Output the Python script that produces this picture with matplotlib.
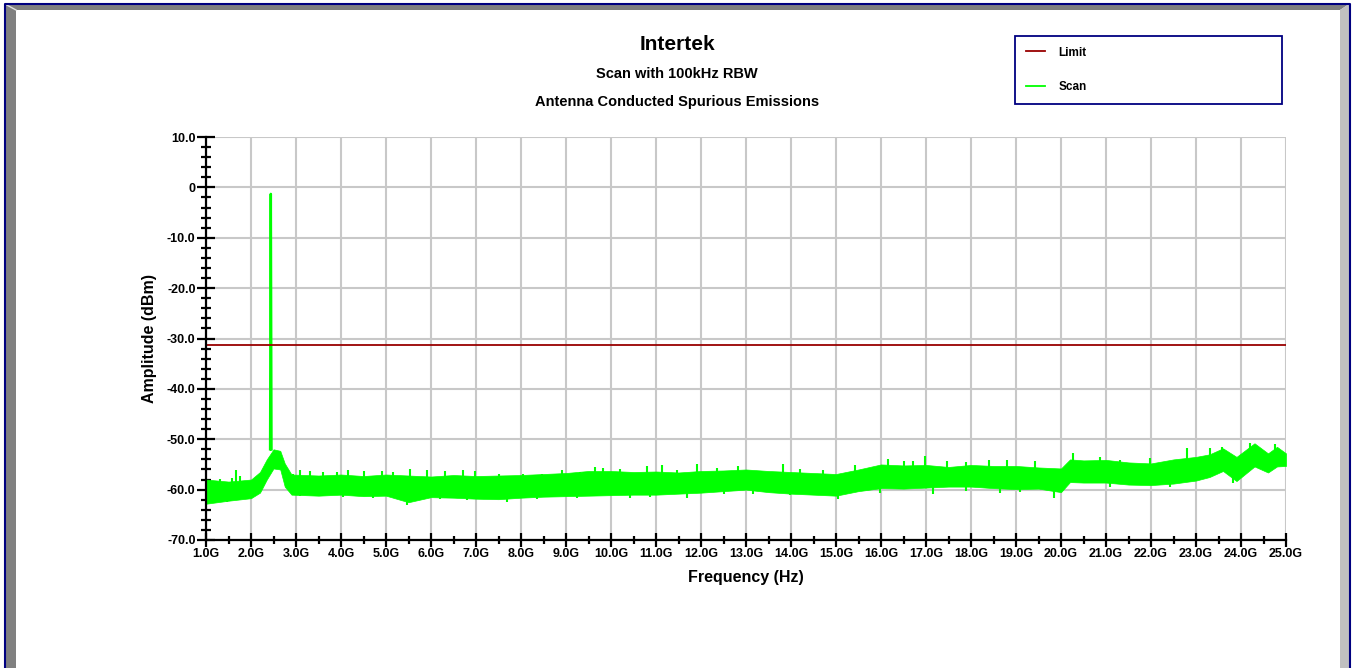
import numpy as np
import matplotlib
matplotlib.use('Agg')
import matplotlib.pyplot as plt
from matplotlib.patches import Polygon
from matplotlib.ticker import MultipleLocator, FuncFormatter

plt.rcParams['font.family'] = ['Liberation Sans', 'DejaVu Sans']
plt.rcParams['font.weight'] = 'bold'

# scan envelope (GHz, dBm)
freq = [1.0, 1.5, 2.0, 2.2, 2.35, 2.5, 2.65, 2.75, 2.9, 3.5, 4.0, 4.5, 5.0, 5.5,
        6.0, 6.5, 7.0, 7.5, 8.0, 8.5, 9.0, 9.5, 10.0, 10.5, 11.0, 11.5, 12.0,
        12.5, 13.0, 13.5, 14.0, 14.5, 15.0, 15.5, 16.0, 16.5, 17.0, 17.5, 18.0,
        18.5, 19.0, 19.5, 20.0, 20.2, 20.5, 21.0, 21.5, 22.0, 22.5, 23.0, 23.3,
        23.6, 23.9, 24.3, 24.6, 24.8, 25.0]
scan_hi = [-58.0, -58.4, -58.0, -56.5, -54.0, -52.0, -52.3, -54.8, -57.0, -57.2,
           -57.0, -57.3, -57.0, -57.2, -57.4, -57.1, -57.3, -57.2, -57.1, -56.9,
           -56.7, -56.3, -56.3, -56.5, -56.4, -56.6, -56.3, -56.2, -56.0, -56.3,
           -56.5, -56.7, -56.9, -56.0, -55.0, -55.2, -55.1, -55.5, -55.1, -55.3,
           -55.3, -55.6, -55.8, -54.0, -54.2, -54.1, -54.6, -54.8, -54.0, -53.5,
           -53.0, -51.8, -53.5, -50.8, -52.8, -51.5, -52.8]
scan_lo = [-62.8, -62.2, -61.7, -60.6, -58.0, -55.8, -56.0, -59.4, -61.0, -61.2,
           -61.0, -61.3, -61.2, -62.5, -61.5, -61.6, -61.8, -61.9, -61.6, -61.4,
           -61.3, -61.2, -61.1, -61.0, -61.0, -60.8, -60.6, -60.3, -60.0, -60.5,
           -60.8, -61.0, -61.2, -60.3, -59.7, -59.8, -59.6, -59.4, -59.4, -59.7,
           -59.9, -59.8, -60.5, -58.5, -58.6, -58.6, -59.0, -59.1, -58.8, -58.2,
           -57.5, -56.3, -58.3, -55.4, -56.6, -55.4, -55.3]

# single points sticking out of the band (top side)
spike_f = [1.31, 1.57, 1.67, 1.76, 2.94, 3.09, 3.31, 3.61, 3.9, 4.16, 4.5, 4.9,
           5.16, 5.53, 5.9, 6.31, 6.72, 6.98, 7.5, 8.05, 8.46, 8.9, 9.31, 9.64,
           9.83, 10.2, 10.79, 11.13, 11.46, 11.9, 12.35, 12.83, 13.83, 14.2,
           14.72, 15.42, 16.16, 16.5, 16.72, 16.98, 17.46, 17.9, 18.39, 18.79,
           19.42, 20.27, 20.87, 21.31, 21.98, 22.79, 23.31, 23.57, 24.2, 24.76]
spike_top = [-57.8, -57.6, -56.2, -57.3, -56.8, -56.1, -56.4, -56.6, -56.6, -56.2,
             -56.4, -56.4, -56.6, -56.0, -56.2, -56.4, -56.1, -56.4, -56.8, -56.9,
             -56.8, -56.2, -56.6, -55.6, -55.8, -56.0, -55.3, -55.2, -56.1, -54.9,
             -55.8, -55.4, -54.9, -56.0, -56.1, -55.1, -54.0, -54.4, -54.4, -53.3,
             -54.4, -54.6, -54.2, -54.1, -54.4, -52.8, -53.6, -54.1, -53.8, -51.7,
             -51.8, -51.6, -50.7, -50.9]
# and the bottom side
dip_f = [1.09, 1.46, 3.09, 4.05, 4.72, 5.46, 6.2, 6.79, 7.68, 8.35, 9.24, 10.42,
         10.87, 11.68, 12.5, 13.16, 13.98, 15.05, 15.98, 17.16, 17.9, 18.64,
         19.09, 19.85, 21.09, 22.42, 23.83]
dip_bottom = [-62.7, -62.4, -61.3, -61.5, -61.7, -63.0, -61.9, -62.1, -62.4,
              -61.9, -61.6, -61.7, -61.5, -61.7, -60.9, -60.9, -61.1, -61.9,
              -60.6, -60.9, -60.2, -60.6, -60.4, -61.6, -59.4, -59.4, -58.6]

# carrier
peak_f = [2.425, 2.44, 2.455]
peak_v = [-52.0, -1.3, -52.0]

limit_f = [1.0, 25.0]
limit_v = [-31.3, -31.3]

W, H = 1354, 668
fig = plt.figure(figsize=(W / 100, H / 100), dpi=100)

# window frame
bg = fig.add_axes([0, 0, 1, 1], zorder=-5)
bg.set_xlim(0, W)
bg.set_ylim(H, 0)
bg.axis('off')
bg.add_patch(Polygon([[5, 4], [16, 10], [16, H], [5, H]], closed=True,
                     fc='#808080', ec='none'))
bg.add_patch(Polygon([[5, 4], [1349, 4], [1340, 10], [16, 10]], closed=True,
                     fc='#808080', ec='none'))
bg.add_patch(Polygon([[1349, 4], [1349, H], [1340, H], [1340, 10]], closed=True,
                     fc='#c0c0c0', ec='none'))
bg.plot([5, 16], [4, 10], c='#e0e0e0', lw=1)
bg.plot([4.5, 4.5, 1349.5, 1349.5], [H, 3.5, 3.5, H], c='#000080', lw=1.5)

ax = fig.add_axes([206 / W, 1 - 540 / H, 1080 / W, 403 / H])

ax.fill_between(freq, scan_lo, scan_hi, color='#00ff00', lw=0.5,
                edgecolor='#00ff00', zorder=3)
ax.vlines(spike_f, np.interp(spike_f, freq, scan_hi) - 0.5, spike_top,
          color='#00ff00', lw=1.5, zorder=3)
ax.vlines(dip_f, dip_bottom, np.interp(dip_f, freq, scan_lo) + 0.5,
          color='#00ff00', lw=1.5, zorder=3)
ax.plot(peak_f, peak_v, c='#00ff00', lw=1.8, zorder=3)
ax.plot(limit_f, limit_v, c='#990000', lw=1.3, zorder=4, label='Limit')
ax.plot([], [], c='#00ff00', lw=1.3, label='Scan')

ax.set_xlim(1.0, 25.0)
ax.set_ylim(-70, 10)
ax.xaxis.set_major_locator(MultipleLocator(1.0))
ax.xaxis.set_minor_locator(MultipleLocator(0.5))
ax.yaxis.set_major_locator(MultipleLocator(10))
ax.yaxis.set_minor_locator(MultipleLocator(2))
ax.xaxis.set_major_formatter(FuncFormatter(lambda v, p: f'{v:.1f}G'))
ax.yaxis.set_major_formatter(FuncFormatter(lambda v, p: '0' if abs(v) < 1e-9 else f'{v:.1f}'))
ax.grid(True, which='major', color='#c8c8c8', lw=1.5)
ax.set_axisbelow(True)
for s in ['top', 'right']:
    ax.spines[s].set_visible(False)
for s in ['left', 'bottom']:
    ax.spines[s].set_linewidth(1.6)
    ax.spines[s].set_zorder(5)
ax.tick_params(axis='y', which='major', direction='inout', length=13, width=1.6,
               labelsize=9, pad=1)
ax.tick_params(axis='y', which='minor', direction='inout', length=7, width=1.6)
ax.tick_params(axis='x', which='major', direction='inout', length=10, width=1.6,
               labelsize=9, pad=1)
ax.tick_params(axis='x', which='minor', direction='inout', length=6, width=1.6)
for lab in ax.get_xticklabels() + ax.get_yticklabels():
    lab.set_fontweight('bold')

ax.set_xlabel('Frequency (Hz)', fontsize=11.5, fontweight='bold', labelpad=7)
ax.set_ylabel('Amplitude (dBm)', fontsize=11.5, fontweight='bold', labelpad=7)

fig.text(677 / W, 1 - 45 / H, 'Intertek', ha='center', va='center',
         fontsize=15, fontweight='bold')
fig.text(677 / W, 1 - 74 / H, 'Scan with 100kHz RBW', ha='center', va='center',
         fontsize=10.5, fontweight='bold')
fig.text(677 / W, 1 - 102 / H, 'Antenna Conducted Spurious Emissions',
         ha='center', va='center', fontsize=10.5, fontweight='bold')

leg = ax.legend(loc='upper left', bbox_to_anchor=(1015 / W, 1 - 36 / H, 267 / W, 0),
                bbox_transform=fig.transFigure, mode='expand', fancybox=False,
                edgecolor='#000080', framealpha=1, prop={'size': 8.5, 'weight': 'bold'},
                handlelength=1.6, handletextpad=1.2, labelspacing=1.9,
                borderpad=0.9, borderaxespad=0)
leg.get_frame().set_linewidth(1.3)

fig.savefig('out.png', dpi=100)
